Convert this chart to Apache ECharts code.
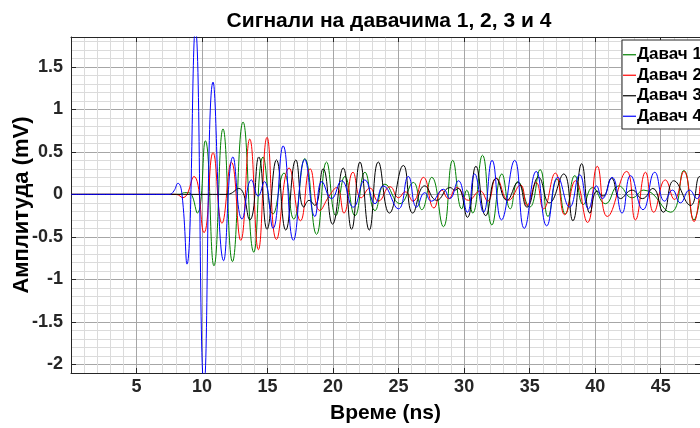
<!DOCTYPE html>
<html><head><meta charset="utf-8">
<script src="https://cdn.jsdelivr.net/npm/echarts@6/dist/echarts.min.js"></script>
<style>html,body{margin:0;padding:0;background:#fff}#c{width:700px;height:428px}</style>
</head><body><div id="c"></div>
<script>
const titleText = 'Сигнали на давачима 1, 2, 3 и 4';
const xName = 'Време (ns)';
const yName = 'Амплитуда (mV)';
const seriesNames = ['Давач 1', 'Давач 2', 'Давач 3', 'Давач 4'];
const seriesColors = ['#008000', '#ff0000', '#000000', '#0000ff'];
const xTickLabels = [5, 10, 15, 20, 25, 30, 35, 40, 45];
const yTickLabels = [-2, -1.5, -1, -0.5, 0, 0.5, 1, 1.5];

// Давач 1 (green) – extrema [ns, mV]
const sensor1 = [[0,0],[8.3,0],[8.67,0.02],[9.0,0.02],[9.64,-0.22],[10.25,0.63],[10.91,-0.84],[11.6,0.77],[12.32,-0.79],[13.13,0.85],[13.95,-0.68],[14.66,0.44],[15.42,-0.23],[16.25,0.25],[17.0,-0.29],[17.84,0.42],[18.74,-0.47],[19.5,0.38],[20.21,-0.25],[20.9,0.21],[21.67,-0.25],[22.43,0.26],[23.2,-0.19],[23.96,0.12],[25.1,-0.11],[26.12,0.14],[26.77,-0.18],[27.53,0.2],[28.42,-0.38],[29.13,0.4],[29.82,-0.17],[30.2,0.05],[30.65,-0.22],[31.4,0.46],[32.12,-0.36],[32.88,0.24],[33.52,-0.17],[34.1,0.15],[35.0,-0.15],[35.8,0.29],[36.4,-0.26],[37.08,0.18],[37.72,-0.23],[38.45,0.22],[39.1,-0.12],[39.8,0.08],[40.78,-0.11],[41.8,0.1],[42.82,-0.04],[43.71,0.05],[45.75,-0.21],[46.77,0.28],[47.55,-0.3],[48,-0.05]];
// Давач 2 (red)
const sensor2 = [[0,0],[8.0,0],[8.54,-0.04],[9.38,0.21],[10.15,-0.45],[10.84,0.49],[11.52,-0.34],[12.24,0.38],[12.95,-0.54],[13.64,0.65],[14.3,-0.65],[14.96,0.67],[15.68,-0.53],[16.64,0.31],[17.51,-0.31],[18.25,0.3],[18.99,-0.19],[19.7,-0.02],[20.27,0.08],[20.83,-0.22],[21.52,0.26],[22.15,-0.04],[22.81,0.075],[23.45,-0.08],[24.35,0.09],[25.0,-0.04],[25.5,0.03],[26.1,-0.08],[26.89,0.2],[27.7,-0.16],[28.3,0.05],[28.8,-0.05],[29.44,0.08],[30.33,-0.07],[31.22,0.04],[31.8,-0.08],[32.45,0.19],[33.39,-0.07],[34.3,0.11],[34.8,-0.13],[35.5,0.14],[36.06,-0.17],[36.96,0.25],[37.68,-0.24],[38.5,0.16],[39.42,-0.33],[40.16,0.33],[40.93,-0.26],[42.4,0.27],[43.07,-0.3],[43.84,0.26],[44.47,-0.21],[45.36,0.17],[46.05,-0.06],[46.77,0.27],[47.55,-0.32],[48,0.1]];
// Давач 3 (black)
const sensor3 = [[0,0],[11.9,0],[12.8,0.07],[13.64,-0.3],[14.33,0.44],[14.96,-0.41],[15.68,0.405],[16.39,-0.42],[17.16,0.405],[17.77,-0.15],[18.17,-0.07],[18.6,-0.13],[19.24,0.3],[19.96,-0.35],[20.77,0.31],[21.41,-0.41],[22.05,0.38],[22.76,-0.42],[23.45,0.38],[24.3,-0.22],[25.36,0.34],[26.08,-0.22],[27.0,0.1],[27.9,-0.07],[28.93,0.08],[29.3,0.05],[29.55,0.07],[30.25,-0.27],[30.9,0.33],[31.65,-0.25],[32.45,0.19],[33.26,-0.07],[34.1,0.14],[34.8,-0.15],[35.68,0.2],[36.5,-0.1],[37.6,0.24],[38.3,-0.31],[38.97,0.36],[39.6,-0.22],[40.14,0.04],[40.6,-0.02],[41.25,0.19],[41.93,-0.05],[42.82,0.05],[43.6,-0.05],[44.4,0.07],[45.2,-0.21],[46.0,0.16],[47.28,-0.13],[47.97,0.21],[48,0.2]];
// Давач 4 (blue)
const sensor4 = [[0,0],[7.5,0],[7.85,0.04],[8.16,0.13],[8.47,0.0],[8.85,-0.82],[9.49,1.95],[10.15,-2.25],[10.84,1.32],[11.65,-0.78],[12.36,0.44],[13.05,-0.29],[13.77,0.17],[14.28,-0.02],[14.75,0.15],[15.42,-0.4],[16.19,0.57],[16.97,-0.54],[17.84,0.41],[18.61,-0.26],[19.15,0.15],[19.88,-0.05],[20.65,0.16],[21.54,-0.15],[22.43,0.17],[23.2,-0.11],[23.83,0.1],[24.98,-0.17],[25.74,0.21],[26.38,-0.15],[27.0,0.02],[27.5,-0.08],[28.42,0.06],[28.9,-0.05],[29.56,0.16],[30.25,-0.21],[30.8,0.24],[31.48,-0.21],[32.13,0.4],[32.85,-0.3],[33.86,0.4],[34.59,-0.4],[35.5,0.27],[36.3,-0.37],[37.15,0.2],[38.05,-0.15],[38.82,0.23],[39.5,-0.17],[40.1,0.1],[40.55,-0.05],[41.29,0.2],[42.05,-0.22],[42.7,0.22],[43.65,-0.18],[44.55,0.26],[45.3,-0.08],[45.9,0.05],[46.5,-0.1],[47.2,0.05],[47.8,-0.05],[48,0]];

const sensors = [sensor1, sensor2, sensor3, sensor4];
const FONT = 'Liberation Sans';
const AX = '#262626';
const MAJOR = '#a6a6a6';
const MINOR = '#dbdbdb';
const X_MIN = 0, X_MAX = 48, Y_MIN = -2.1, Y_MAX = 1.85;

const chart = echarts.init(document.getElementById('c'), null, {renderer: 'canvas'});
const hidden = {axisLine: {show: false}, axisTick: {show: false}, axisLabel: {show: false}};
function fmt(list) {
  return function (v) {
    for (const t of list) if (Math.abs(v - t) < 1e-6) return String(t);
    return '';
  };
}
chart.setOption({
  animation: false,
  backgroundColor: '#fff',
  title: {
    text: titleText, left: 384, top: 6, textAlign: 'center',
    textStyle: {fontFamily: FONT, fontWeight: 'bold', fontSize: 21, color: '#000'}
  },
  grid: {left: 71, right: 0, top: 37, bottom: 55, containLabel: false, outerBoundsMode: 'none'},
  xAxis: [
    Object.assign({type: 'value', min: X_MIN, max: X_MAX, interval: 1, position: 'bottom',
      splitLine: {show: true, lineStyle: {color: MINOR, width: 1}}}, hidden),
    {type: 'value', min: X_MIN, max: X_MAX, interval: 5, position: 'bottom',
      name: xName, nameLocation: 'middle', nameGap: 30, nameMoveOverlap: false,
      nameTextStyle: {fontFamily: FONT, fontWeight: 'bold', fontSize: 21, color: '#000'},
      axisLine: {show: true, onZero: false, lineStyle: {color: AX, width: 1}},
      axisTick: {show: true, inside: true, length: 5, lineStyle: {color: AX}},
      axisLabel: {show: true, margin: 5, formatter: fmt(xTickLabels), showMinLabel: false, showMaxLabel: false,
        fontFamily: FONT, fontWeight: 'bold', fontSize: 18, color: '#262626'},
      splitLine: {show: true, lineStyle: {color: MAJOR, width: 1}}},
    {type: 'value', min: X_MIN, max: X_MAX, interval: 5, position: 'top',
      axisLine: {show: true, onZero: false, lineStyle: {color: AX, width: 1}},
      axisTick: {show: true, inside: true, length: 5, lineStyle: {color: AX}},
      axisLabel: {show: false}, splitLine: {show: false}}
  ],
  yAxis: [
    Object.assign({type: 'value', min: Y_MIN, max: Y_MAX, interval: 0.1, position: 'left',
      splitLine: {show: true, lineStyle: {color: MINOR, width: 1}}}, hidden),
    {type: 'value', min: Y_MIN, max: Y_MAX, splitNumber: 8, position: 'left',
      name: yName, nameLocation: 'middle', nameGap: 38, nameMoveOverlap: false,
      nameTextStyle: {fontFamily: FONT, fontWeight: 'bold', fontSize: 22, color: '#000'},
      axisLine: {show: true, onZero: false, lineStyle: {color: AX, width: 1}},
      axisTick: {show: true, inside: true, length: 5, lineStyle: {color: AX}},
      axisLabel: {show: true, margin: 8, formatter: fmt(yTickLabels), showMinLabel: false, showMaxLabel: false,
        fontFamily: FONT, fontWeight: 'bold', fontSize: 18, color: '#262626'},
      splitLine: {show: true, lineStyle: {color: MAJOR, width: 1}}},
    {type: 'value', min: Y_MIN, max: Y_MAX, splitNumber: 8, position: 'right',
      axisLine: {show: true, onZero: false, lineStyle: {color: AX, width: 1}},
      axisTick: {show: true, inside: true, length: 5, lineStyle: {color: AX}},
      axisLabel: {show: false}, splitLine: {show: false}}
  ],
  legend: {
    orient: 'vertical', left: 622, top: 40,
    icon: 'rect', itemWidth: 13, itemHeight: 1.2, itemGap: 3,
    padding: [6, 6, 4, 1],
    backgroundColor: '#fff', borderColor: '#262626', borderWidth: 1, borderRadius: 0,
    textStyle: {fontFamily: FONT, fontWeight: 'bold', fontSize: 17, color: '#000', lineHeight: 17.5, padding: [0, 0, 0, -4]},
    data: seriesNames
  },
  series: sensors.map((d, i) => ({
    name: seriesNames[i], type: 'line', data: d,
    xAxisIndex: 1, yAxisIndex: 1,
    smooth: 0.5, symbol: 'none', showSymbol: false, clip: true,
    lineStyle: {color: seriesColors[i], width: 1},
    itemStyle: {color: seriesColors[i]},
    z: 3 + i
  }))
});
</script></body></html>
